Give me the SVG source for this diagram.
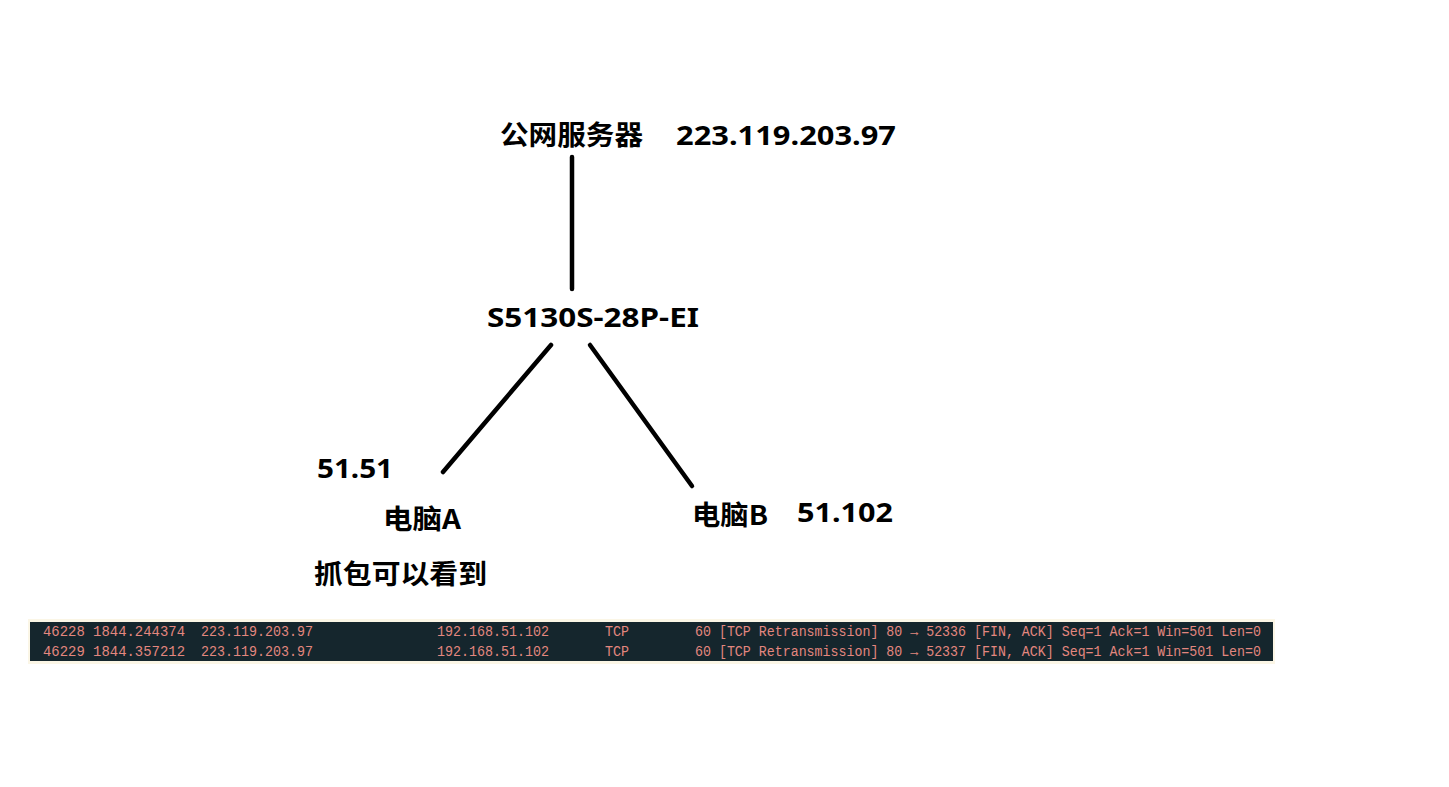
<svg xmlns="http://www.w3.org/2000/svg" width="1449" height="787" viewBox="0 0 1449 787">
<style>
.lbl{font-family:"Noto Sans","Noto Sans CJK SC",sans-serif;font-weight:bold;font-size:27px;fill:#000}
.cjk{font-family:"Noto Sans CJK SC","Noto Sans",sans-serif;font-weight:bold;font-size:27px;fill:#000}
.pkt{font-family:"Liberation Mono","DejaVu Sans Mono",monospace;font-size:14.5px;fill:#e3877f}
.link{stroke:#000;stroke-width:4.5;stroke-linecap:round;fill:none}
</style>
<rect width="1449" height="787" fill="#fff"/>
<g id="connectors">
<line class="link" x1="572" y1="157" x2="572" y2="289"/>
<line class="link" x1="551" y1="345" x2="443" y2="472"/>
<line class="link" x1="590" y1="345" x2="692" y2="486"/>
</g>
<g id="server">
<text class="cjk" x="500" y="145" textLength="143" lengthAdjust="spacingAndGlyphs">公网服务器</text>
<text class="lbl" x="676" y="145" textLength="220" lengthAdjust="spacingAndGlyphs">223.119.203.97</text>
</g>
<g id="switch">
<text class="lbl" x="487" y="327" textLength="212" lengthAdjust="spacingAndGlyphs">S5130S-28P-EI</text>
</g>
<g id="pcA">
<text class="lbl" x="317" y="478" textLength="76" lengthAdjust="spacingAndGlyphs">51.51</text>
<text class="cjk" x="383" y="529" textLength="78" lengthAdjust="spacingAndGlyphs">电脑A</text>
<text class="cjk" x="314" y="584" textLength="173" lengthAdjust="spacingAndGlyphs">抓包可以看到</text>
</g>
<g id="pcB">
<text class="cjk" x="692" y="525" textLength="76" lengthAdjust="spacingAndGlyphs">电脑B</text>
<text class="lbl" x="797" y="522" textLength="96" lengthAdjust="spacingAndGlyphs">51.102</text>
</g>
<g id="capture">
<rect x="28" y="619" width="1247" height="45" fill="#fbf6e6"/>
<rect x="30" y="622" width="1243" height="39" fill="#15262d"/>
<text class="pkt" x="43" y="636" textLength="142" lengthAdjust="spacingAndGlyphs">46228 1844.244374</text>
<text class="pkt" x="201" y="636" textLength="112" lengthAdjust="spacingAndGlyphs">223.119.203.97</text>
<text class="pkt" x="437" y="636" textLength="112" lengthAdjust="spacingAndGlyphs">192.168.51.102</text>
<text class="pkt" x="605" y="636" textLength="24" lengthAdjust="spacingAndGlyphs">TCP</text>
<text class="pkt" x="695" y="636" textLength="566" lengthAdjust="spacingAndGlyphs">60 [TCP Retransmission] 80 → 52336 [FIN, ACK] Seq=1 Ack=1 Win=501 Len=0</text>
<text class="pkt" x="43" y="656" textLength="142" lengthAdjust="spacingAndGlyphs">46229 1844.357212</text>
<text class="pkt" x="201" y="656" textLength="112" lengthAdjust="spacingAndGlyphs">223.119.203.97</text>
<text class="pkt" x="437" y="656" textLength="112" lengthAdjust="spacingAndGlyphs">192.168.51.102</text>
<text class="pkt" x="605" y="656" textLength="24" lengthAdjust="spacingAndGlyphs">TCP</text>
<text class="pkt" x="695" y="656" textLength="566" lengthAdjust="spacingAndGlyphs">60 [TCP Retransmission] 80 → 52337 [FIN, ACK] Seq=1 Ack=1 Win=501 Len=0</text>
</g>
</svg>
